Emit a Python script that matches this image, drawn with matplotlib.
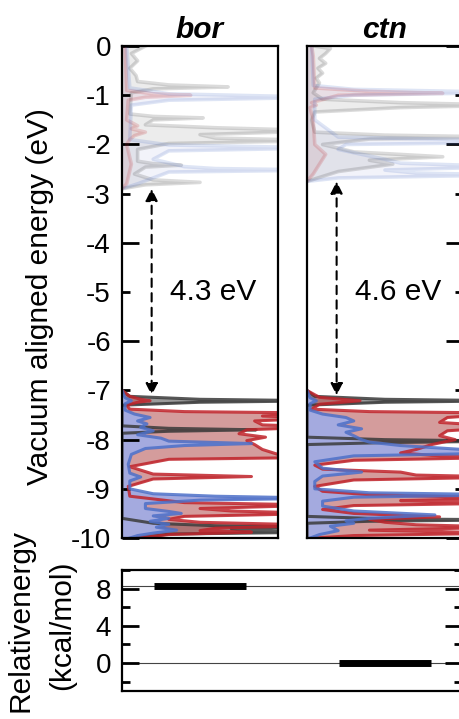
import numpy as np
import matplotlib
matplotlib.use('Agg')
import matplotlib.pyplot as plt
from matplotlib.ticker import MultipleLocator, FormatStrFormatter

plt.rcParams['font.family'] = ['Liberation Sans', 'DejaVu Sans']
plt.rcParams['axes.unicode_minus'] = False

# ---- data ----
systems = ['bor', 'ctn']
gap_top = [-2.9, -2.75]        # lowest unoccupied edge (eV)
gap_bottom = [-7.1, -7.1]      # highest occupied edge (eV)
gap_labels = ['4.3 eV', '4.6 eV']
rel_energy = [8.25, 0.0]       # kcal/mol

# bor, unoccupied states
bor_gray_virt_E = [0.0, -0.05, -0.15, -0.3, -0.45, -0.6, -0.72, -0.79, -0.83, -0.87, -0.95, -1.38, -1.43, -1.46, -1.5,
                   -1.6, -1.66, -1.72, -1.8, -1.87, -1.92, -1.98, -2.1, -2.34, -2.39, -2.42, -2.46, -2.6, -2.72, -2.77,
                   -2.82, -2.9]
bor_gray_virt_D = [0.15, 0.12, 0.06, 0.1, 0.05, 0.09, 0.1, 0.3, 0.68, 0.2, 0.06, 0.05, 0.2, 0.52, 0.2,
                   0.15, 0.6, 1.3, 0.5, 0.6, 1.3, 0.3, 0.1, 0.1, 0.2, 0.38, 0.15, 0.08, 0.2, 0.5,
                   0.15, 0.0]
bor_red_virt_E = [0.0, -0.9, -0.97, -1.0, -1.04, -1.1, -1.5, -1.62, -1.68, -1.75, -1.82, -1.9, -2.0, -2.4, -2.8, -2.9]
bor_red_virt_D = [0.02, 0.03, 0.2, 0.44, 0.15, 0.04, 0.03, 0.1, 0.06, 0.15, 0.08, 0.05, 0.03, 0.06, 0.03, 0.0]
bor_blue_virt_E = [0.0, -0.85, -0.97, -1.04, -1.1, -1.2, -1.9, -2.01, -2.07, -2.13, -2.3, -2.45, -2.49, -2.52, -2.56,
                   -2.8, -2.9]
bor_blue_virt_D = [0.03, 0.05, 0.3, 1.3, 0.3, 0.06, 0.05, 0.3, 1.3, 0.3, 0.2, 0.4, 0.6, 1.3, 0.3, 0.1, 0.0]

# bor, occupied states
bor_gray_occ_E = [-7.0, -7.12, -7.18, -7.21, -7.24, -7.3, -7.72, -7.77, -7.8, -7.83, -7.87, -9.6, -9.7, -9.75,
                  -9.78, -9.81, -9.85, -9.88, -9.92, -10.0]
bor_gray_occ_D = [0.0, 0.05, 0.5, 1.3, 0.5, 0.0, 0.0, 0.3, 0.86, 0.3, 0.0, 0.0, 0.2, 0.6,
                  1.3, 0.7, 0.8, 1.3, 0.3, 0.1]
bor_red_occ_E = [-7.0, -7.12, -7.18, -7.21, -7.24, -7.3, -7.38, -7.43, -7.46, -7.52, -7.56, -7.62, -7.7, -7.74,
                 -7.8, -7.88, -7.95, -8.02, -8.1, -8.2, -8.3, -8.36, -8.4, -8.55, -8.7, -8.75, -8.8, -8.95,
                 -9.15, -9.28, -9.33, -9.4, -9.45, -9.5, -9.56, -9.62, -9.68, -9.74, -9.8, -9.85, -9.88, -9.93, -10.0]
bor_red_occ_D = [0.0, 0.05, 0.12, 0.18, 0.1, 0.03, 0.05, 0.4, 1.3, 0.9, 1.3, 0.85, 0.9, 1.3,
                 0.8, 0.75, 0.92, 0.8, 0.85, 0.9, 1.0, 1.3, 0.3, 0.05, 0.2, 0.83, 0.2, 0.04,
                 0.05, 0.4, 1.3, 0.5, 0.7, 1.3, 0.4, 0.3, 0.5, 1.3, 0.6, 0.5, 0.83, 0.3, 0.1]
bor_blue_occ_E = [-7.0, -7.15, -7.21, -7.27, -7.4, -7.48, -7.55, -7.62, -7.68, -7.75, -7.82, -7.9, -7.97, -8.03,
                  -8.08, -8.12, -8.18, -8.3, -8.5, -8.68, -8.76, -8.84, -9.0, -9.1, -9.15, -9.19, -9.23, -9.3,
                  -9.4, -9.46, -9.5, -9.55, -9.6, -9.66, -9.72, -9.78, -9.84, -9.9, -9.95, -10.0]
bor_blue_occ_D = [0.0, 0.02, 0.06, 0.02, 0.02, 0.08, 0.18, 0.1, 0.16, 0.12, 0.2, 0.1, 0.25, 0.3,
                  0.83, 0.4, 0.15, 0.06, 0.04, 0.05, 0.12, 0.05, 0.05, 0.2, 0.6, 1.3, 0.5, 0.15,
                  0.15, 0.3, 0.38, 0.2, 0.3, 0.18, 0.3, 0.22, 0.35, 0.2, 0.1, 0.05]

# ctn, unoccupied states
ctn_gray_virt_E = [0.0, -0.05, -0.15, -0.25, -0.35, -0.45, -0.55, -0.65, -0.75, -0.85, -0.95, -1.08, -1.15, -1.2,
                   -1.25, -1.34, -1.5, -1.75, -1.81, -1.85, -1.89, -2.0, -2.15, -2.25, -2.32, -2.4, -2.55, -2.7, -2.75]
ctn_gray_virt_D = [0.05, 0.15, 0.12, 0.08, 0.12, 0.07, 0.1, 0.06, 0.08, 0.06, 0.04, 0.1, 0.6, 1.3,
                   0.6, 0.05, 0.03, 0.05, 0.5, 1.3, 0.4, 0.1, 0.3, 0.87, 0.4, 0.55, 0.2, 0.05, 0.0]
ctn_red_virt_E = [0.0, -0.2, -0.85, -0.92, -0.96, -1.0, -1.15, -1.2, -1.25, -1.5, -2.0, -2.2, -2.4, -2.6, -2.75]
ctn_red_virt_D = [0.03, 0.04, 0.05, 0.4, 0.87, 0.2, 0.03, 0.06, 0.02, 0.04, 0.05, 0.12, 0.08, 0.04, 0.0]
ctn_blue_virt_E = [0.0, -0.8, -0.88, -0.94, -1.0, -1.08, -1.5, -1.85, -1.92, -1.96, -2.0, -2.1, -2.2, -2.3, -2.38,
                   -2.45, -2.52, -2.58, -2.62, -2.68, -2.75]
ctn_blue_virt_D = [0.03, 0.04, 0.3, 1.3, 0.3, 0.05, 0.05, 0.2, 1.3, 1.3, 0.25, 0.2, 0.35, 0.5, 0.6,
                   1.3, 0.5, 0.7, 1.3, 0.2, 0.0]

# ctn, occupied states
ctn_gray_occ_E = [-7.0, -7.12, -7.18, -7.21, -7.24, -7.3, -7.95, -8.0, -8.03, -8.06, -8.1, -9.56, -9.61,
                  -9.63, -9.66, -9.7, -10.0]
ctn_gray_occ_D = [0.0, 0.05, 0.5, 1.3, 0.5, 0.0, 0.0, 0.5, 1.3, 0.5, 0.0, 0.0, 0.5,
                  1.3, 0.4, 0.0, 0.0]
ctn_red_occ_E = [-7.0, -7.14, -7.21, -7.28, -7.38, -7.43, -7.46, -7.55, -7.65, -7.74, -7.82, -7.92, -8.0, -8.1,
                 -8.2, -8.27, -8.32, -8.36, -8.42, -8.52, -8.6, -8.66, -8.72, -8.76, -8.82, -8.95, -9.05, -9.12,
                 -9.19, -9.24, -9.29, -9.34, -9.42, -9.5, -9.57, -9.62, -9.68, -9.73, -9.78, -9.84, -9.9, -9.95, -10.0]
ctn_red_occ_D = [0.0, 0.08, 0.34, 0.08, 0.03, 0.4, 1.3, 0.9, 0.85, 1.3, 0.9, 0.85, 0.95, 0.8,
                 0.7, 0.6, 0.8, 1.3, 0.3, 0.05, 0.1, 0.6, 0.7, 1.3, 0.3, 0.05, 0.1, 0.4,
                 1.3, 0.6, 1.3, 0.3, 0.1, 0.3, 0.85, 0.4, 0.5, 0.7, 1.3, 0.4, 1.3, 0.3, 0.05]
ctn_blue_occ_E = [-7.0, -7.15, -7.21, -7.27, -7.4, -7.48, -7.55, -7.62, -7.7, -7.78, -7.85, -7.92, -8.0, -8.05,
                  -8.12, -8.2, -8.27, -8.33, -8.45, -8.58, -8.66, -8.74, -8.85, -9.0, -9.08, -9.12, -9.17, -9.25,
                  -9.35, -9.45, -9.53, -9.6, -9.65, -9.7, -9.76, -9.85, -9.93, -10.0]
ctn_blue_occ_D = [0.0, 0.02, 0.06, 0.02, 0.02, 0.1, 0.25, 0.3, 0.2, 0.35, 0.25, 0.3, 0.35, 0.4,
                  0.6, 1.0, 1.3, 0.3, 0.05, 0.1, 0.35, 0.1, 0.05, 0.05, 0.4, 1.3, 0.3, 0.1,
                  0.1, 0.3, 0.82, 0.4, 0.25, 0.3, 0.15, 0.2, 0.08, 0.02]

# line colour, fill colour, fill alpha (occupied)
styles = {'gray': ('#3a3a3a', '#7a7a7a', 0.75),
          'red': ('#c0232a', '#b85a5a', 0.6),
          'blue': ('#4d70c8', '#a4aadf', 1.0)}

curves = {
    'bor': [('gray', bor_gray_virt_E, bor_gray_virt_D, False), ('red', bor_red_virt_E, bor_red_virt_D, False),
            ('blue', bor_blue_virt_E, bor_blue_virt_D, False),
            ('gray', bor_gray_occ_E, bor_gray_occ_D, True), ('red', bor_red_occ_E, bor_red_occ_D, True),
            ('blue', bor_blue_occ_E, bor_blue_occ_D, True)],
    'ctn': [('gray', ctn_gray_virt_E, ctn_gray_virt_D, False), ('red', ctn_red_virt_E, ctn_red_virt_D, False),
            ('blue', ctn_blue_virt_E, ctn_blue_virt_D, False),
            ('gray', ctn_gray_occ_E, ctn_gray_occ_D, True), ('red', ctn_red_occ_E, ctn_red_occ_D, True),
            ('blue', ctn_blue_occ_E, ctn_blue_occ_D, True)],
}

fig = plt.figure(figsize=(4.59, 7.19), dpi=100)

panel_left = [0.2658, 0.6688]
for i, name in enumerate(systems):
    ax = fig.add_axes([panel_left[i], 0.2517, 0.3399, 0.6842])
    for cname, E, D, occ in curves[name]:
        lc, fc, fa = styles[cname]
        if occ:
            ax.fill_betweenx(E, 0, D, color=fc, alpha=fa, lw=0)
            ax.plot(D, E, color=lc, alpha=0.85, lw=2.2, solid_joinstyle='round')
        else:
            ax.fill_betweenx(E, 0, D, color=fc, alpha=0.14, lw=0)
            ax.plot(D, E, color=lc, alpha=0.18, lw=2.6, solid_joinstyle='round')

    ax.set_xlim(0, 1)
    ax.set_ylim(-10, 0)
    ax.set_xticks([])
    ax.yaxis.set_major_locator(MultipleLocator(2))
    ax.yaxis.set_minor_locator(MultipleLocator(1))
    if i == 0:
        ax.yaxis.set_major_formatter(FormatStrFormatter('%d'))
        ax.yaxis.set_minor_formatter(FormatStrFormatter('%d'))
        ax.tick_params(axis='y', which='both', direction='in', labelsize=20, pad=8,
                       left=True, right=False)
    else:
        ax.tick_params(axis='y', which='both', direction='in', labelleft=False,
                       left=False, right=True)
    ax.tick_params(axis='y', which='major', length=12, width=2)
    ax.tick_params(axis='y', which='minor', length=6, width=2)
    for sp in ax.spines.values():
        sp.set_linewidth(1.6)
        sp.set_zorder(5)
    ax.set_title(name, fontsize=21.5, fontweight='bold', style='italic', pad=6)

    # band gap arrow
    ax.annotate('', xy=(0.19, gap_bottom[i]), xytext=(0.19, gap_top[i]),
                arrowprops=dict(arrowstyle='<|-|>', color='k', lw=1.5, ls=(0, (4, 3)),
                                mutation_scale=18, shrinkA=0, shrinkB=0))
    ax.text(0.31, -5.0, gap_labels[i], fontsize=21.5, ha='left', va='center')

fig.text(0.087, 0.588, 'Vacuum aligned energy (eV)', rotation=90, fontsize=21.5,
         ha='center', va='center')

# relative energy panel
axb = fig.add_axes([0.2658, 0.0389, 0.7407, 0.1683])
pos = np.arange(len(systems))
axb.axhline(rel_energy[0], color='#444444', lw=0.8, zorder=1)
axb.axhline(rel_energy[1], color='#444444', lw=0.8, zorder=1)
axb.hlines(rel_energy, pos - 0.25, pos + 0.25, color='k', lw=5, zorder=2)
axb.set_xlim(-0.4216, 1.416)
axb.set_ylim(-3, 10)
axb.set_xticks([])
axb.yaxis.set_major_locator(MultipleLocator(4))
axb.yaxis.set_minor_locator(MultipleLocator(2))
axb.tick_params(axis='y', which='both', direction='in', left=True, right=True, width=2)
axb.tick_params(axis='y', which='major', length=12, labelsize=20, pad=8)
axb.tick_params(axis='y', which='minor', length=6)
for sp in axb.spines.values():
    sp.set_linewidth(1.6)

fig.text(0.045, 0.137, 'Relativenergy', rotation=90, fontsize=21.5, ha='center', va='center')
fig.text(0.135, 0.13, '(kcal/mol)', rotation=90, fontsize=21.5, ha='center', va='center')

fig.savefig('out.png', dpi=100)
